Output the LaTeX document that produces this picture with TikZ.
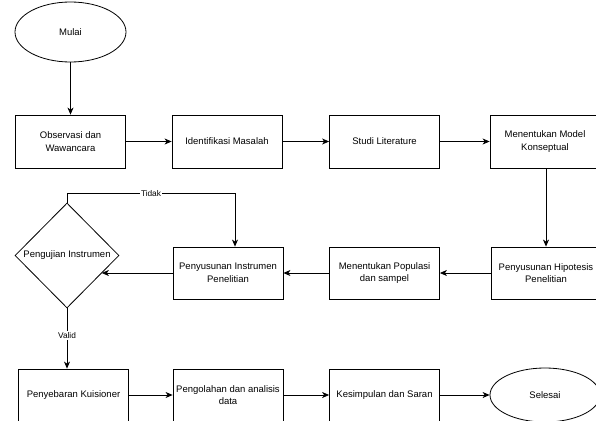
\documentclass[tikz,border=0pt]{standalone}
\usepackage{fontspec}
\setmainfont{Liberation Sans}
\usetikzlibrary{shapes.geometric,arrows.meta}

\begin{document}
\begin{tikzpicture}[x=1pt,y=-1pt]
    \tikzset{font={\fontsize{9.5pt}{12.5pt}\selectfont},
      box/.style={draw,line width=.8pt,minimum width=110pt,minimum height=53pt,align=center,inner sep=2pt},
      oval/.style={draw,line width=.8pt,ellipse,minimum width=111pt,minimum height=60pt},
      cek/.style={draw,line width=.8pt,diamond,minimum width=104pt,minimum height=105pt,inner sep=0pt},
      arr/.style={-{Stealth[length=7pt,width=6pt,inset=2pt]},line width=.8pt},
      lbl/.style={fill=white,inner sep=1pt,font={\fontsize{8.3pt}{10pt}\selectfont}}}
    \clip (0,0) rectangle (596,420);
    % baris atas
    \node[oval] (mulai) at (70.5,32) {Mulai};
    \node[box] (obs) at (70.5,141.5) {Observasi dan\\Wawancara};
    \node[box] (idm) at (227,141.5) {Identifikasi Masalah};
    \node[box] (stu) at (384.5,141.5) {Studi Literature};
    \node[box] (mod) at (545,141.5) {Menentukan Model\\Konseptual};
    % baris tengah
    \node[box,minimum height=52pt] (hip) at (546,273) {Penyusunan Hipotesis\\Penelitian};
    \node[box,minimum height=52pt] (pop) at (384.5,273) {Menentukan Populasi\\dan sampel};
    \node[box,minimum height=52pt] (ins) at (228,273) {Penyusunan Instrumen\\Penelitian};
    \node[cek,label=center:Pengujian Instrumen] (uji) at (67,255.5) {};
    % baris bawah
    \node[box,minimum height=52pt] (kui) at (73.5,395) {Penyebaran Kuisioner};
    \node[box,minimum height=52pt] (olah) at (228,395) {Pengolahan dan analisis\\data};
    \node[box,minimum height=52pt] (simp) at (384.5,395) {Kesimpulan dan Saran};
    \node[oval,minimum width=110pt,minimum height=54pt] (sel) at (545,395) {Selesai};

    \draw[arr] (mulai) -- (obs);
    \draw[arr] (obs) -- (idm);
    \draw[arr] (idm) -- (stu);
    \draw[arr] (stu) -- (mod);
    \draw[arr] (mod.south -| hip.north) -- (hip.north);
    \draw[arr] (hip) -- (pop);
    \draw[arr] (pop) -- (ins);
    \draw[arr] (ins.west) -- (ins.west -| uji.-27);
    \draw[arr] (uji.north) -- ++(0,-9) -| node[lbl,pos=.25]{Tidak} ([xshift=7pt]ins.north);
    \draw[arr] (uji.south) -- node[lbl,pos=.45]{Valid} (uji.south |- kui.north);
    \draw[arr] (kui) -- (olah);
    \draw[arr] (olah) -- (simp);
    \draw[arr] (simp) -- (sel);
\end{tikzpicture}
\end{document}
